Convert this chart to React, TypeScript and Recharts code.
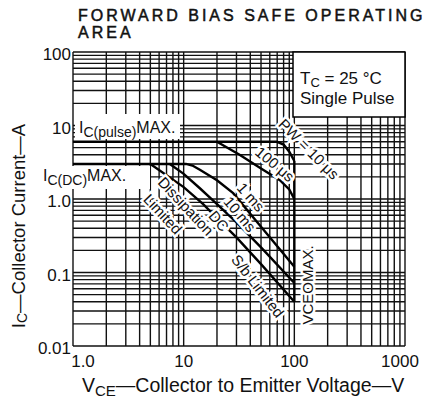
import React from "react";
import { LineChart, Line, XAxis, YAxis, ReferenceLine } from "recharts";

const FONT = '"Liberation Sans", Arial, Helvetica, sans-serif';

// axis ticks and labels
const vceTicks = [1, 10, 100, 1000];
const vceTickLabels = ["1.0", "10", "100", "1000"];
const icTicks = [0.01, 0.1, 1, 10, 100];
const icTickLabels = ["0.01", "0.1", "1.0", "10", "100"];

// log grid lines
const vceGrid = [
  1, 2, 3, 4, 5, 6, 7, 8, 9, 10, 20, 30, 40, 50, 60, 70, 80, 90, 100, 200, 300,
  400, 500, 600, 700, 800, 900, 1000,
];
const icGrid = [
  0.01, 0.02, 0.03, 0.04, 0.05, 0.06, 0.07, 0.08, 0.09, 0.1, 0.2, 0.3, 0.4, 0.5,
  0.6, 0.7, 0.8, 0.9, 1, 2, 3, 4, 5, 6, 7, 8, 9, 10, 20, 30, 40, 50, 60, 70, 80,
  90, 100,
];

// boundaries (VCE in V, IC in A)
const pw10us = [
  { v: 1, i: 6 },
  { v: 70, i: 6 },
  { v: 80, i: 5.5 },
  { v: 90, i: 4.4 },
  { v: 100, i: 3.3 },
];
const pw100us = [
  { v: 20, i: 6 },
  { v: 32, i: 4 },
  { v: 50, i: 2.6 },
  { v: 74, i: 1.8 },
  { v: 90, i: 1.35 },
  { v: 100, i: 1.0 },
];
const pw1ms = [
  { v: 1, i: 3 },
  { v: 10.5, i: 3 },
  { v: 12, i: 2.85 },
  { v: 14, i: 2.5 },
  { v: 20, i: 1.8 },
  { v: 28, i: 1.2 },
  { v: 50, i: 0.42 },
  { v: 100, i: 0.12 },
];
const pw10ms = [
  { v: 7.5, i: 3 },
  { v: 10, i: 2.2 },
  { v: 14, i: 1.4 },
  { v: 20, i: 0.85 },
  { v: 30, i: 0.48 },
  { v: 50, i: 0.22 },
  { v: 100, i: 0.072 },
];
const dcLimit = [
  { v: 5, i: 3 },
  { v: 10, i: 1.45 },
  { v: 15, i: 0.85 },
  { v: 20, i: 0.55 },
  { v: 30, i: 0.3 },
  { v: 50, i: 0.13 },
  { v: 100, i: 0.04 },
];
const vceoMax = [
  { v: 100, i: 3.3 },
  { v: 100, i: 0.04 },
];

const series = [pw10us, pw100us, pw1ms, pw10ms, dcLimit, vceoMax];

function XTick(props: any) {
  const { x, y, payload, index } = props;
  const dx = payload.value === 1 ? 10 : payload.value === 1000 ? -5 : 0;
  return (
    <text x={x + dx} y={y + 15} dy="0.36em" textAnchor="middle" fontSize={17} fill="#111" fontFamily={FONT}>
      {vceTickLabels[index] ?? payload.value}
    </text>
  );
}

function YTick(props: any) {
  const { x, y, payload, index } = props;
  return (
    <text x={x} y={y + 2} dy="0.36em" textAnchor="end" fontSize={17} fill="#111" fontFamily={FONT}>
      {icTickLabels[index] ?? payload.value}
    </text>
  );
}

const halo = { stroke: "#fff", strokeWidth: 5, paintOrder: "stroke" as const };

function CurveLabel({ x, y, angle, children }: any) {
  return (
    <text
      x={x}
      y={y}
      transform={`rotate(${angle} ${x} ${y})`}
      textAnchor="middle"
      dominantBaseline="central"
      fontSize={15}
      fill="#111"
      fontFamily={FONT}
      style={halo}
    >
      {children}
    </text>
  );
}

export default function App() {
  return (
    <div style={{ position: "absolute", left: 0, top: 0, width: 430, height: 402, background: "#fff" }}>
      <LineChart width={430} height={402} margin={{ top: 52, right: 25, bottom: 26, left: 33 }}>
        <XAxis
          type="number"
          dataKey="v"
          scale="log"
          domain={[1, 1000]}
          ticks={vceTicks}
          allowDataOverflow
          axisLine={false}
          tickLine={false}
          tickSize={0}
          tickMargin={0}
          height={30}
          tick={<XTick />}
        />
        <YAxis
          type="number"
          dataKey="i"
          scale="log"
          domain={[0.01, 100]}
          ticks={icTicks}
          allowDataOverflow
          axisLine={false}
          tickLine={false}
          tickSize={0}
          tickMargin={2}
          width={40}
          tick={<YTick />}
        />
        {vceGrid.map((v) => (
          <ReferenceLine key={`vx${v}`} x={v} stroke="#111" strokeWidth={1.4} />
        ))}
        {icGrid.map((i) => (
          <ReferenceLine key={`hy${i}`} y={i} stroke="#111" strokeWidth={1.4} />
        ))}
        {series.map((d, k) => (
          <Line
            key={k}
            data={d}
            dataKey="i"
            type="linear"
            stroke="#000"
            strokeWidth={2.4}
            dot={false}
            activeDot={false}
            isAnimationActive={false}
          />
        ))}
      </LineChart>

      <svg
        width={430}
        height={402}
        style={{ position: "absolute", left: 0, top: 0, pointerEvents: "none" }}
        fontFamily={FONT}
      >
        {/* title */}
        <text x={78} y={21} fontSize={16} letterSpacing={3} fill="#111" stroke="#111" strokeWidth={0.5}>
          FORWARD BIAS SAFE OPERATING
        </text>
        <text x={78} y={38} fontSize={16} letterSpacing={3} fill="#111" stroke="#111" strokeWidth={0.5}>
          AREA
        </text>

        {/* condition box */}
        <rect x={293} y={52} width={112} height={65} fill="#fff" stroke="#000" strokeWidth={1.5} />
        <text x={300} y={84} fontSize={17} fill="#111">
          T<tspan fontSize={13} dy={3}>C</tspan>
          <tspan dy={-3}> = 25 °C</tspan>
        </text>
        <text x={300} y={104} fontSize={17} fill="#111">
          Single Pulse
        </text>

        {/* max current labels */}
        <rect x={75} y={114} width={105} height={25} fill="#fff" />
        <text x={79} y={133} fontSize={16} fill="#111">
          I<tspan fontSize={14} dy={4}>C(pulse)</tspan>
          <tspan dy={-4}>MAX.</tspan>
        </text>
        <rect x={42} y={166} width={108} height={23} fill="#fff" />
        <text x={43} y={181} fontSize={16} fill="#111">
          I<tspan fontSize={14} dy={4}>C(DC)</tspan>
          <tspan dy={-4}>MAX.</tspan>
        </text>

        {/* curve labels */}
        <CurveLabel x={309} y={149} angle={45}>PW = 10 μs</CurveLabel>
        <CurveLabel x={275} y={164} angle={40}>100 μs</CurveLabel>
        <CurveLabel x={251} y={197} angle={48}>1 ms</CurveLabel>
        <CurveLabel x={240} y={214} angle={50}>10 ms</CurveLabel>
        <CurveLabel x={219} y={221} angle={50}>DC</CurveLabel>
        <CurveLabel x={186} y={206} angle={47}>Dissipation</CurveLabel>
        <CurveLabel x={163} y={214} angle={47}>Limited</CurveLabel>
        <CurveLabel x={258} y={286} angle={52}>S/b Limited</CurveLabel>
        <CurveLabel x={307} y={285} angle={-90}>VCEOMAX.</CurveLabel>

        {/* axis titles */}
        <text x={18} y={226} transform="rotate(-90 18 226)" textAnchor="middle" dominantBaseline="central" fontSize={18.5} fill="#111">
          I<tspan fontSize={14} dy={4}>C</tspan>
          <tspan dy={-4}>—Collector Current—A</tspan>
        </text>
        <text x={82} y={392} fontSize={19.5} fill="#111">
          V<tspan fontSize={15} dy={4}>CE</tspan>
          <tspan dy={-4}>—Collector to Emitter Voltage—V</tspan>
        </text>
      </svg>
    </div>
  );
}
